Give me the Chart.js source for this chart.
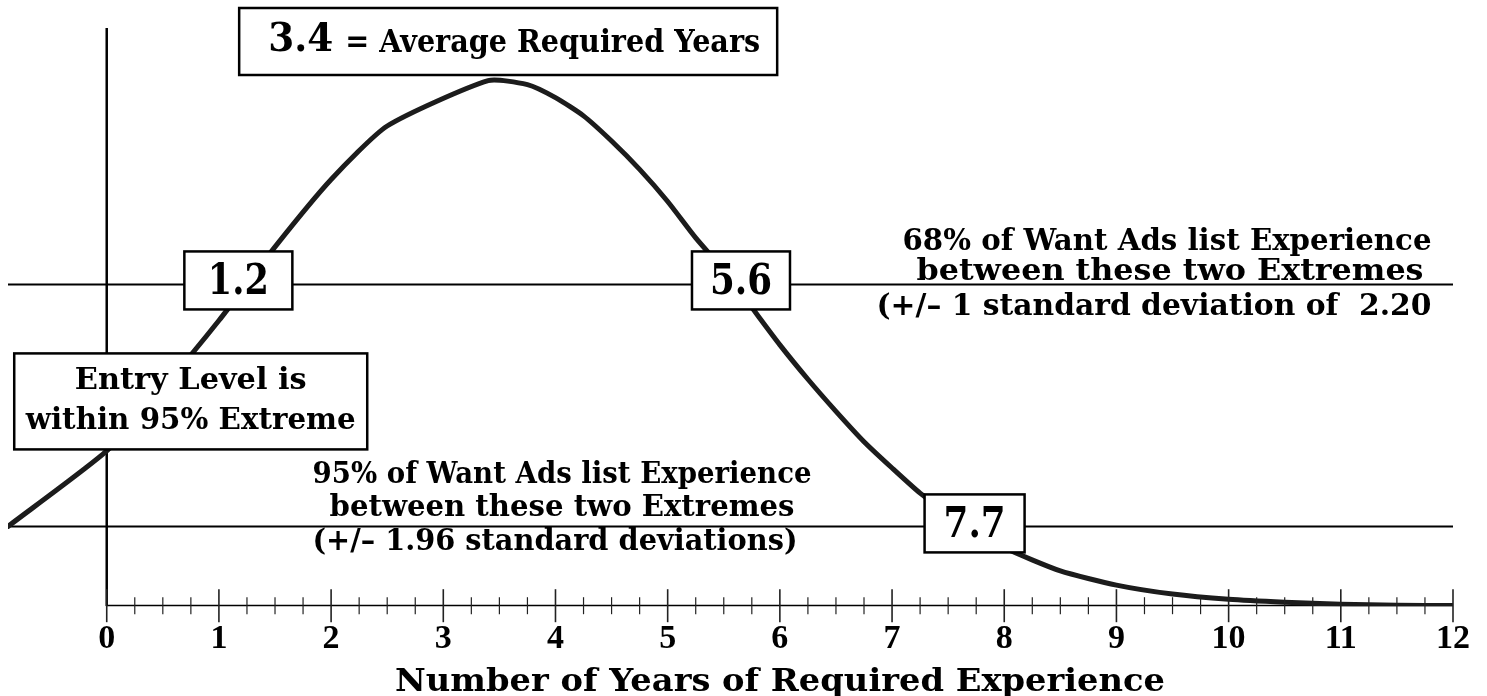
<!DOCTYPE html>
<html>
<head>
<meta charset="utf-8">
<script src="https://cdn.jsdelivr.net/npm/chart.js@4.4.1/dist/chart.umd.min.js"></script>
<style>
  html, body { margin: 0; padding: 0; background: #fff; }
  #wrap { width: 1487px; height: 696px; }
</style>
</head>
<body>
<div id="wrap"><canvas id="chart" width="1487" height="696"></canvas></div>
<script>
'use strict';

// curve (years -> relative height)
const years = [-0.88, 0, 0.5, 1, 1.5, 2, 2.5, 3.4, 3.75, 4, 4.25, 4.5, 4.75, 5, 5.25, 5.5, 5.75,
    6, 6.25, 6.5, 6.75, 7, 7.25, 7.5, 7.75, 8, 8.5, 9, 9.5, 10, 10.5, 11, 11.5, 12];
const density = [0.0276, 0.0537, 0.0754, 0.0988, 0.1243, 0.1476, 0.1661, 0.1818, 0.1804, 0.1759,
    0.1696, 0.1609, 0.1511, 0.1400, 0.1274, 0.1162, 0.1033, 0.0904, 0.0785, 0.0674, 0.0569,
    0.0478, 0.0391, 0.0321, 0.0258, 0.0202, 0.0122, 0.0073, 0.0042, 0.0024, 0.0014, 0.0007,
    0.0003, 0.0002];

const tickLabels = ['0', '1', '2', '3', '4', '5', '6', '7', '8', '9', '10', '11', '12'];
const xRange = [-0.88, 12];
const yTop = 0.2;

const mean = 3.4;
const oneSd = [1.2, 5.6];
const twoSd = [-0.88, 7.7];
const oneSdLevel = 0.1113;
const twoSdLevel = 0.0276;

const axisTitle = 'Number of Years of Required Experience';

const serif = '"DejaVu Serif", "Liberation Serif", serif';

function pts(xs, ys) {
    return xs.map((x, i) => ({ x: x, y: ys[i] }));
}

// draw bold serif text squeezed/stretched to a given width
function fitText(ctx, text, x, y, width, size, align) {
    ctx.save();
    ctx.font = 'bold ' + size + 'px ' + serif;
    const w = ctx.measureText(text).width;
    ctx.translate(x, y);
    ctx.scale(width / w, 1);
    ctx.textAlign = align || 'center';
    ctx.textBaseline = 'middle';
    ctx.fillStyle = '#000';
    ctx.fillText(text, 0, 0);
    ctx.restore();
}

function box(ctx, cx, cy, w, h) {
    ctx.save();
    ctx.fillStyle = '#fff';
    ctx.strokeStyle = '#000';
    ctx.lineWidth = 2.5;
    ctx.fillRect(cx - w / 2, cy - h / 2, w, h);
    ctx.strokeRect(cx - w / 2, cy - h / 2, w, h);
    ctx.restore();
}

// axis ticks (major + quarter minor) and all the labelled boxes
const notesPlugin = {
    id: 'notes',
    afterDatasetsDraw(chart) {
        const ctx = chart.ctx;
        const xs = chart.scales.x;
        const ys = chart.scales.y;
        const base = ys.getPixelForValue(0);

        ctx.save();
        ctx.strokeStyle = '#222';
        for (let q = 0; q <= 48; q++) {
            const px = xs.getPixelForValue(q / 4);
            const major = q % 4 === 0;
            ctx.lineWidth = major ? 1.6 : 1.2;
            ctx.beginPath();
            ctx.moveTo(px, base - (major ? 17 : 9));
            ctx.lineTo(px, base + (major ? 16 : 8));
            ctx.stroke();
        }
        ctx.restore();

        // 1 sd labels
        const l1 = ys.getPixelForValue(oneSdLevel);
        const l2 = ys.getPixelForValue(twoSdLevel);
        let cx = xs.getPixelForValue(oneSd[0]) - 3;
        box(ctx, cx, l1 - 4, 108, 58);
        fitText(ctx, '1.2', cx, l1 - 2, 61, 43);

        cx = xs.getPixelForValue(oneSd[1]) + 6;
        box(ctx, cx, l1 - 4, 98, 58);
        fitText(ctx, '5.6', cx, l1 - 2, 62, 43);

        cx = xs.getPixelForValue(twoSd[1]) + 4;
        box(ctx, cx, l2 - 3, 100, 58);
        fitText(ctx, '7.7', cx, l2 - 1, 62, 43);

        // mean box
        cx = xs.getPixelForValue(mean) + 20;
        const top = ys.getPixelForValue(yTop);
        box(ctx, cx, top + 13.5, 538, 67);
        fitText(ctx, '3.4', cx - 240, top + 13, 65, 40, 'left');
        fitText(ctx, '= Average Required Years', cx - 163, top + 16, 415, 31, 'left');

        // entry level box
        const y0 = xs.getPixelForValue(0);
        box(ctx, y0 + 84, l2 - 125, 353, 96);
        fitText(ctx, 'Entry Level is', y0 + 84, l2 - 145, 232, 30);
        fitText(ctx, 'within 95% Extreme', y0 + 84, l2 - 105, 330, 30);

        // band notes
        fitText(ctx, '68% of Want Ads list Experience', 1167, l1 - 42, 529, 30);
        fitText(ctx, 'between these two Extremes', 1170, l1 - 12, 507, 30);
        fitText(ctx, '(+/\u2013 1 standard deviation of  2.20', 1154, l1 + 23, 555, 30);

        fitText(ctx, '95% of Want Ads list Experience', 562, l2 - 51, 499, 30);
        fitText(ctx, 'between these two Extremes', 562, l2 - 18, 465, 30);
        fitText(ctx, '(+/\u2013 1.96 standard deviations)', 555, l2 + 16, 485, 30);

        // axis title
        fitText(ctx, axisTitle, 780, base + 77, 770, 31);
    }
};

const ctx = document.getElementById('chart').getContext('2d');
new Chart(ctx, {
    type: 'line',
    data: {
        datasets: [
            {
                data: pts(years, density),
                borderColor: '#1c1c1c',
                borderWidth: 5,
                tension: 0.2,
                pointRadius: 0,
                borderCapStyle: 'round',
                borderJoinStyle: 'round'
            },
            {
                data: pts(xRange, [oneSdLevel, oneSdLevel]),
                borderColor: '#000',
                borderWidth: 2,
                pointRadius: 0
            },
            {
                data: pts(xRange, [twoSdLevel, twoSdLevel]),
                borderColor: '#000',
                borderWidth: 2,
                pointRadius: 0
            },
            {
                data: pts([0, 0], [0, yTop]),
                borderColor: '#000',
                borderWidth: 2.5,
                pointRadius: 0
            },
            {
                data: pts([0, 12], [0, 0]),
                borderColor: '#000',
                borderWidth: 3,
                pointRadius: 0
            }
        ]
    },
    options: {
        responsive: false,
        animation: false,
        layout: { padding: { left: 8, right: 34, top: 28, bottom: 31 } },
        plugins: { legend: { display: false }, tooltip: { enabled: false } },
        scales: {
            x: {
                type: 'linear',
                min: xRange[0],
                max: xRange[1],
                bounds: 'data',
                grid: { display: false },
                border: { display: false },
                afterBuildTicks: (scale) => {
                    scale.ticks = tickLabels.map((t, i) => ({ value: i }));
                },
                ticks: {
                    autoSkip: false,
                    maxRotation: 0,
                    padding: 5,
                    color: '#000',
                    font: { family: '"Liberation Serif", serif', weight: 'bold', size: 34 },
                    callback: (v) => tickLabels[Math.round(v)] || ''
                }
            },
            y: { display: false, min: 0, max: yTop }
        }
    },
    plugins: [notesPlugin]
});
</script>
</body>
</html>
